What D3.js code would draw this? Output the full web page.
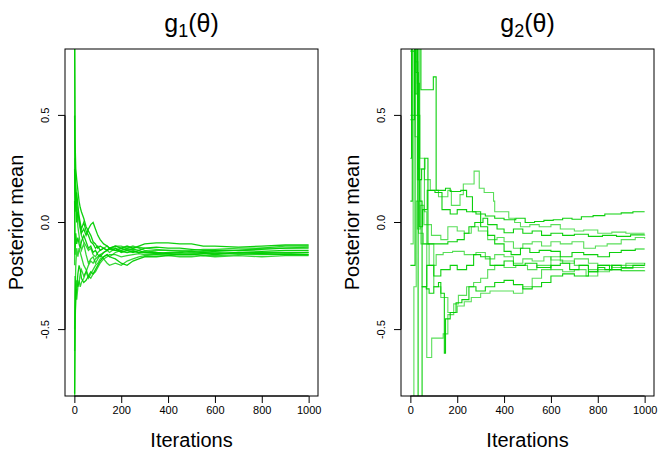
<!DOCTYPE html>
<html lang="en">
<head>
    <meta charset="UTF-8">
    <title>Posterior mean traces</title>
    <script src="https://d3js.org/d3.v7.min.js"></script>
    <style>
        body { margin: 0; background: #fff; }
        svg { display: block; font-family: "Liberation Sans", Arial, Helvetica, sans-serif; }
    </style>
</head>
<body>
<svg width="659" height="450"></svg>

<script>
    // ---- data ----
    const xTicks = [0, 200, 400, 600, 800, 1000];
    const yTicks = [-0.5, 0.0, 0.5];
    const yTickLabels = ["-0.5", "0.0", "0.5"];

    // g1: running means, sampled at these iterations
    const iters1 = [1, 3, 6, 10, 15, 20, 25, 30, 40, 50, 60, 70, 80, 90, 100, 110, 125, 140, 150, 175, 200, 225, 250, 275, 300, 350, 400, 450, 500, 550, 600, 700, 800, 900, 1000];
    const g1Chains = [
        [0.9, 0.38, 0.25, 0.2, 0.15, 0.1, 0.07, 0.05, 0.02, -0.02, -0.04, -0.06, -0.09, -0.1, -0.12, -0.11, -0.12, -0.13, -0.12, -0.11, -0.12, -0.11, -0.12, -0.11, -0.1, -0.095, -0.095, -0.1, -0.1, -0.11, -0.11, -0.115, -0.11, -0.105, -0.105],
        [-0.9, -0.5, -0.32, -0.27, -0.3, -0.28, -0.24, -0.22, -0.25, -0.23, -0.26, -0.24, -0.22, -0.2, -0.19, -0.17, -0.16, -0.15, -0.16, -0.14, -0.13, -0.125, -0.13, -0.14, -0.135, -0.13, -0.13, -0.135, -0.14, -0.135, -0.13, -0.13, -0.12, -0.12, -0.115],
        [0.5, 0.15, 0.1, 0.0, 0.05, 0.02, -0.02, -0.05, -0.03, -0.06, -0.03, -0.01, 0.0, -0.03, -0.06, -0.08, -0.1, -0.11, -0.12, -0.13, -0.12, -0.13, -0.14, -0.13, -0.14, -0.14, -0.145, -0.15, -0.15, -0.145, -0.15, -0.14, -0.145, -0.15, -0.15],
        [-0.5, -0.25, -0.32, -0.36, -0.3, -0.27, -0.3, -0.28, -0.26, -0.23, -0.2, -0.18, -0.19, -0.17, -0.16, -0.15, -0.17, -0.19, -0.2, -0.19, -0.2, -0.18, -0.17, -0.16, -0.155, -0.15, -0.155, -0.16, -0.16, -0.155, -0.16, -0.155, -0.16, -0.155, -0.155],
        [0.25, 0.05, 0.12, 0.14, 0.08, 0.03, 0.0, -0.03, 0.0, -0.04, -0.06, -0.09, -0.1, -0.12, -0.11, -0.13, -0.12, -0.13, -0.125, -0.13, -0.135, -0.14, -0.135, -0.14, -0.14, -0.145, -0.14, -0.14, -0.135, -0.14, -0.135, -0.13, -0.125, -0.12, -0.12],
        [-0.6, -0.35, -0.2, -0.12, -0.16, -0.12, -0.14, -0.16, -0.2, -0.22, -0.25, -0.26, -0.24, -0.23, -0.21, -0.19, -0.17, -0.16, -0.15, -0.15, -0.16, -0.155, -0.15, -0.145, -0.15, -0.15, -0.15, -0.145, -0.145, -0.14, -0.14, -0.145, -0.15, -0.145, -0.14],
        [0.1, -0.15, -0.05, -0.1, -0.07, -0.1, -0.12, -0.09, -0.06, -0.09, -0.12, -0.11, -0.14, -0.13, -0.15, -0.16, -0.14, -0.13, -0.12, -0.12, -0.14, -0.13, -0.125, -0.13, -0.12, -0.115, -0.12, -0.12, -0.125, -0.13, -0.13, -0.13, -0.135, -0.13, -0.13],
        [-0.2, 0.3, 0.18, 0.1, 0.04, 0.0, -0.03, -0.06, -0.09, -0.11, -0.13, -0.12, -0.15, -0.16, -0.14, -0.13, -0.12, -0.11, -0.12, -0.11, -0.11, -0.12, -0.11, -0.12, -0.13, -0.14, -0.145, -0.15, -0.15, -0.155, -0.155, -0.15, -0.145, -0.15, -0.15],
        [-0.8, -0.45, -0.35, -0.31, -0.24, -0.2, -0.22, -0.26, -0.28, -0.27, -0.25, -0.23, -0.24, -0.22, -0.2, -0.18, -0.16, -0.15, -0.16, -0.17, -0.19, -0.2, -0.18, -0.17, -0.16, -0.16, -0.155, -0.15, -0.15, -0.145, -0.145, -0.14, -0.14, -0.14, -0.14],
        [0.95, 0.2, 0.15, 0.05, -0.02, -0.06, -0.1, -0.13, -0.1, -0.15, -0.19, -0.17, -0.16, -0.19, -0.17, -0.15, -0.14, -0.13, -0.14, -0.12, -0.13, -0.12, -0.12, -0.115, -0.12, -0.125, -0.13, -0.13, -0.13, -0.125, -0.125, -0.12, -0.12, -0.11, -0.11]
    ];

    // g2: step traces, [iteration, value] at each jump
    const g2Chains = [
        [[0,0.48],[15,0.48],[18,0.95],[30,0.65],[38,-0.02],[52,0.06],[72,0.15],[105,0.14],[135,0.06],[170,0.04],[200,0.06],[240,0.05],[280,0.04],[320,0.03],[360,0.02],[400,0.013],[450,0.02],[490,0.0],[530,0.005],[570,0.01],[610,0.013],[650,0.02],[690,0.015],[730,0.027],[780,0.032],[830,0.04],[900,0.045],[950,0.05],[1000,0.05]],
        [[0,1.2],[22,0.75],[32,0.25],[60,0.2],[85,0.15],[120,0.12],[160,0.15],[175,0.08],[212,0.13],[226,0.18],[272,0.24],[294,0.16],[315,0.14],[355,0.1],[360,0.05],[420,0.02],[445,0.0],[470,-0.02],[510,-0.01],[550,-0.02],[600,-0.01],[640,-0.03],[700,-0.04],[740,-0.035],[800,-0.05],[860,-0.045],[920,-0.05],[1000,-0.05]],
        [[0,0.1],[8,1.1],[24,0.7],[34,0.2],[48,0.25],[62,0.3],[75,-0.1],[120,-0.1],[160,-0.09],[200,-0.08],[230,-0.05],[250,-0.02],[275,0.0],[310,0.02],[330,-0.01],[370,-0.03],[400,-0.048],[440,-0.03],[480,-0.05],[520,-0.04],[560,-0.06],[600,-0.05],[650,-0.06],[700,-0.055],[760,-0.065],[820,-0.06],[880,-0.065],[940,-0.058],[1000,-0.057]],
        [[0,-0.1],[12,0.8],[20,0.4],[30,-0.03],[42,0.08],[58,-0.01],[90,-0.06],[130,-0.08],[160,-0.02],[200,-0.04],[230,-0.05],[260,-0.02],[290,-0.04],[330,-0.08],[370,-0.07],[400,-0.09],[440,-0.12],[480,-0.1],[520,-0.09],[560,-0.11],[600,-0.09],[640,-0.1],[690,-0.09],[740,-0.12],[790,-0.11],[840,-0.1],[900,-0.08],[960,-0.07],[1000,-0.076]],
        [[0,0.3],[5,0.9],[20,0.6],[28,0.9],[45,0.62],[98,0.68],[110,0.15],[150,0.16],[170,0.145],[215,0.15],[240,0.12],[265,0.05],[300,-0.02],[330,-0.06],[360,-0.1],[400,-0.135],[430,-0.15],[470,-0.12],[510,-0.14],[550,-0.13],[600,-0.135],[640,-0.16],[690,-0.14],[740,-0.15],[800,-0.16],[850,-0.14],[900,-0.13],[960,-0.124],[1000,-0.124]],
        [[0,-1.2],[15,-0.3],[25,0.1],[35,-0.05],[55,-0.1],[80,-0.2],[110,-0.15],[140,-0.14],[180,-0.135],[230,-0.15],[280,-0.14],[320,-0.17],[360,-0.15],[400,-0.16],[440,-0.19],[480,-0.17],[520,-0.18],[570,-0.16],[600,-0.175],[650,-0.19],[700,-0.17],[760,-0.19],[800,-0.2],[860,-0.21],[920,-0.2],[1000,-0.19]],
        [[0,0.8],[20,1.0],[33,-0.9],[42,-1.0],[50,-0.3],[70,-0.2],[100,-0.25],[130,-0.22],[170,-0.2],[200,-0.22],[240,-0.2],[270,-0.15],[300,-0.16],[340,-0.2],[400,-0.18],[440,-0.2],[490,-0.19],[540,-0.21],[600,-0.2],[640,-0.19],[680,-0.22],[720,-0.2],[760,-0.23],[800,-0.21],[830,-0.22],[860,-0.2],[900,-0.21],[950,-0.2],[1000,-0.2]],
        [[0,0.5],[30,0.2],[45,-0.1],[70,-0.63],[91,-0.54],[140,-0.52],[160,-0.43],[185,-0.38],[205,-0.34],[240,-0.3],[270,-0.28],[300,-0.26],[330,-0.22],[360,-0.2],[400,-0.21],[450,-0.2],[500,-0.22],[540,-0.2],[600,-0.22],[650,-0.23],[700,-0.22],[750,-0.25],[800,-0.23],[850,-0.22],[900,-0.215],[950,-0.21],[1000,-0.21]],
        [[0,-0.2],[20,0.9],[30,0.5],[40,0.1],[50,-0.3],[68,-0.31],[80,-0.33],[100,-0.3],[120,-0.28],[130,-0.33],[145,-0.61],[150,-0.45],[170,-0.42],[195,-0.375],[220,-0.36],[250,-0.3],[280,-0.32],[320,-0.3],[360,-0.28],[400,-0.27],[440,-0.29],[480,-0.31],[520,-0.3],[560,-0.28],[600,-0.25],[650,-0.24],[700,-0.25],[760,-0.23],[800,-0.2],[850,-0.22],[900,-0.225],[1000,-0.224]],
        [[0,1.0],[40,0.3],[60,0.05],[70,-0.1],[100,-0.3],[130,-0.35],[160,-0.42],[200,-0.39],[230,-0.37],[260,-0.35],[300,-0.33],[340,-0.32],[400,-0.32],[440,-0.33],[480,-0.3],[520,-0.26],[560,-0.22],[600,-0.16],[640,-0.18],[700,-0.2],[760,-0.22],[800,-0.22],[860,-0.2],[920,-0.19],[1000,-0.195]]
    ];

    // ---- drawing ----
    const svg = d3.select("svg");
    const box = {left: 65, right: 318, top: 49, bottom: 396};
    const green = "#00cd00";

    function draw_panel(offset, sub, chains, stepped) {
        const g = svg.append("g").attr("transform", `translate(${offset},0)`);

        const x = d3.scaleLinear().domain([-40, 1040]).range([box.left, box.right]);
        const y = d3.scaleLinear().domain([-0.81, 0.81]).range([box.bottom, box.top]);

        const clipId = "clip" + sub;
        g.append("clipPath").attr("id", clipId)
            .append("rect")
            .attr("x", box.left).attr("y", box.top)
            .attr("width", box.right - box.left)
            .attr("height", box.bottom - box.top);

        const line = d3.line()
            .x(d => x(d[0]))
            .y(d => y(d[1]));
        if (stepped) line.curve(d3.curveStepAfter);

        g.append("g").attr("clip-path", `url(#${clipId})`)
            .selectAll("path")
            .data(chains)
            .enter()
            .append("path")
            .attr("d", d => line(d))
            .attr("fill", "none")
            .attr("stroke", green)
            .attr("stroke-width", stepped ? 1.1 : 1.3)
            .attr("stroke-opacity", (d, i) => i % 2 ? (stepped ? 0.65 : 0.8) : 0.95);

        // box
        g.append("rect")
            .attr("x", box.left).attr("y", box.top)
            .attr("width", box.right - box.left)
            .attr("height", box.bottom - box.top)
            .attr("fill", "none").attr("stroke", "#000").attr("stroke-width", 1);

        // x axis
        const xAxis = d3.axisBottom(x).tickValues(xTicks).tickSize(7).tickPadding(3).tickFormat(d3.format("d"));
        const xa = g.append("g").attr("transform", `translate(0,${box.bottom})`).call(xAxis);
        xa.select(".domain").attr("d", `M${x(0)},0H${x(1000)}`);
        xa.selectAll("text").attr("font-size", 11).attr("font-family", "Liberation Sans, Arial, sans-serif").attr("fill", "#000");

        // y axis
        const yAxis = d3.axisLeft(y).tickValues(yTicks).tickSize(7).tickFormat((d, i) => yTickLabels[i]);
        const ya = g.append("g").attr("transform", `translate(${box.left},0)`).call(yAxis);
        ya.select(".domain").attr("d", `M0,${y(-0.5)}V${y(0.5)}`);
        ya.selectAll("text")
            .attr("font-size", 11)
            .attr("font-family", "Liberation Sans, Arial, sans-serif")
            .attr("fill", "#000")
            .attr("x", null).attr("dy", null)
            .attr("text-anchor", "middle")
            .attr("transform", d => `translate(-16,${y(d)}) rotate(-90)`)
            .attr("y", 0);
        ya.selectAll(".tick").attr("transform", null);
        ya.selectAll(".tick line").attr("transform", d => `translate(0,${y(d)})`);

        // title g_k(theta)
        const t = g.append("text")
            .attr("x", (box.left + box.right) / 2)
            .attr("y", 32)
            .attr("text-anchor", "middle")
            .attr("font-size", 25);
        t.append("tspan").text("g");
        t.append("tspan").attr("font-size", 18).attr("dy", 5).text(sub);
        t.append("tspan").attr("dy", -5).text("(θ)");

        // axis titles
        g.append("text")
            .attr("x", (box.left + box.right) / 2)
            .attr("y", 447)
            .attr("text-anchor", "middle")
            .attr("font-size", 20)
            .text("Iterations");

        g.append("text")
            .attr("transform", `translate(23,${(box.top + box.bottom) / 2}) rotate(-90)`)
            .attr("text-anchor", "middle")
            .attr("font-size", 20)
            .text("Posterior mean");
    }

    const g1Data = g1Chains.map(vals => vals.map((v, i) => [iters1[i], v]));
    draw_panel(0, "1", g1Data, false);
    draw_panel(336, "2", g2Chains, true);
</script>
</body>
</html>
